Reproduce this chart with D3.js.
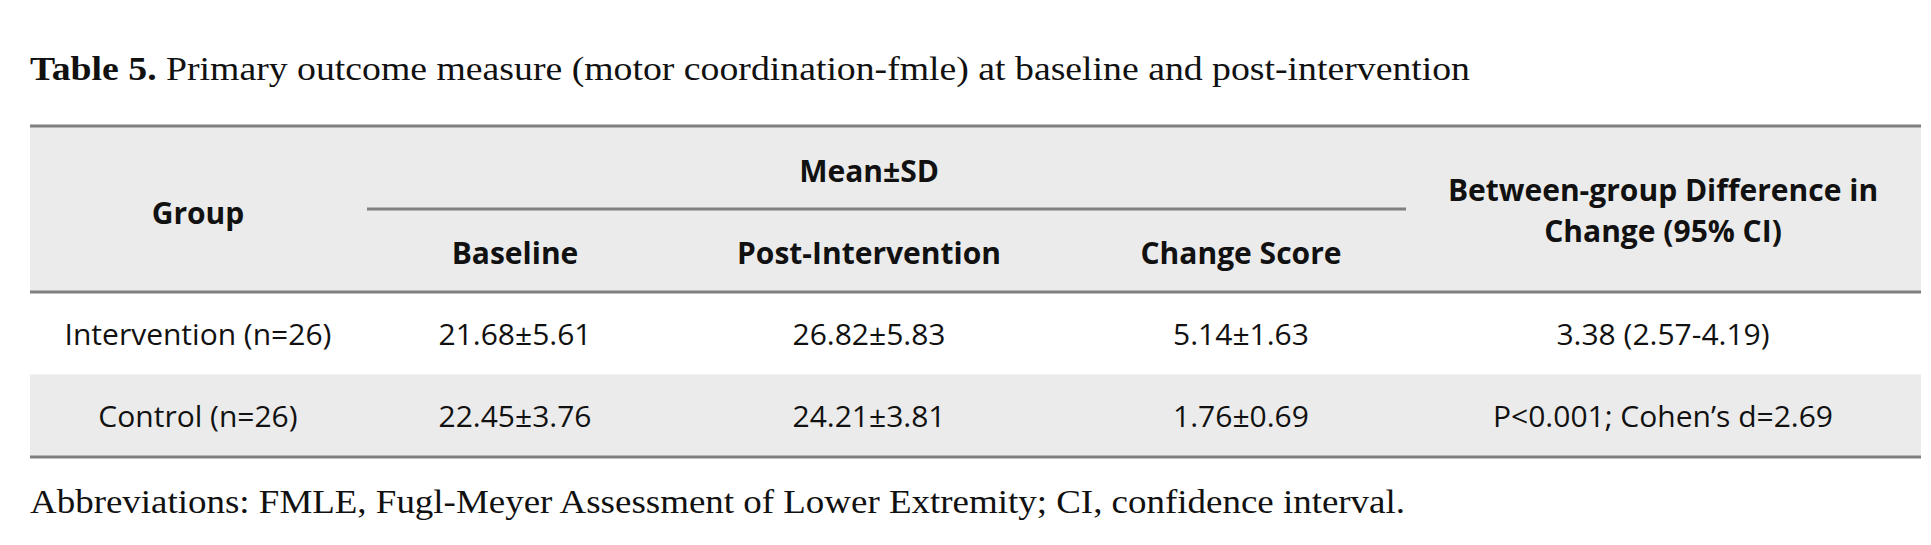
<!DOCTYPE html>
<html lang="en">
<head>
<meta charset="UTF-8">
<title>Table 5</title>
<script src="https://cdn.jsdelivr.net/npm/d3@7"></script>
<style>
  body { margin: 0; background: #fff; }
  .serif { font-family: "Liberation Serif", serif; }
  .sans { font-family: "Open Sans", sans-serif; }
</style>
</head>
<body>
<svg id="chart" width="1931" height="545"></svg>
<script>
const title = ["Table 5.", " Primary outcome measure (motor coordination-fmle) at baseline and post-intervention"];
const footnote = "Abbreviations: FMLE, Fugl-Meyer Assessment of Lower Extremity; CI, confidence interval.";
const columns = ["Group", "Baseline", "Post-Intervention", "Change Score", "Between-group Difference in Change (95% CI)"];
const groups = ["Intervention (n=26)", "Control (n=26)"];
const baseline = ["21.68±5.61", "22.45±3.76"];
const post = ["26.82±5.83", "24.21±3.81"];
const change = ["5.14±1.63", "1.76±0.69"];
const between = ["3.38 (2.57-4.19)", "P<0.001; Cohen’s d=2.69"];

const svg = d3.select("#chart");
const line = "#808080";
const band = "#ebebeb";

// column centres / edges
const x = d3.scaleOrdinal().domain(columns).range([198, 515, 869, 1241, 1663]);
const left = 30, right = 1921;

// title
const t = svg.append("text").attr("class", "serif").attr("x", left).attr("y", 80)
  .attr("font-size", 33).attr("fill", "#111")
  .attr("textLength", 1440).attr("lengthAdjust", "spacingAndGlyphs");
t.append("tspan").attr("font-weight", "bold").text(title[0]);
t.append("tspan").text(title[1]);

// header band
svg.append("rect").attr("x", left).attr("y", 126).attr("width", right - left).attr("height", 166).attr("fill", band);
// row band for second row
const rowY = d3.scaleBand().domain(groups).range([292, 457]);
svg.selectAll("rect.row").data(groups).join("rect")
  .attr("x", left).attr("y", d => rowY(d)).attr("width", right - left).attr("height", rowY.bandwidth())
  .attr("fill", (d, i) => i % 2 ? band : "none");

// rules
[[126, left, right], [292, left, right], [457, left, right]].forEach(([y, a, b]) =>
  svg.append("line").attr("x1", a).attr("x2", b).attr("y1", y).attr("y2", y)
    .attr("stroke", line).attr("stroke-width", 3));
svg.append("line").attr("x1", 367).attr("x2", 1406).attr("y1", 209).attr("y2", 209)
  .attr("stroke", line).attr("stroke-width", 3);

const hdr = (txt, cx, cy) => svg.append("text").attr("class", "sans").attr("x", cx).attr("y", cy)
  .attr("text-anchor", "middle").attr("dominant-baseline", "central")
  .attr("font-size", 30).attr("font-weight", "bold").attr("fill", "#111").text(txt);

hdr("Mean±SD", 869, 170);
hdr(columns[0], x(columns[0]), 212);
columns.slice(1, 4).forEach(c => hdr(c, x(c), 252));
hdr("Between-group Difference in", x(columns[4]), 189);
hdr("Change (95% CI)", x(columns[4]), 230);

// body cells
const rows = groups.map((g, i) => [g, baseline[i], post[i], change[i], between[i]]);
rows.forEach((r, i) => {
  svg.selectAll(null).data(r).join("text").attr("class", "sans")
    .attr("x", (d, j) => x(columns[j]))
    .attr("y", rowY(groups[i]) + rowY.bandwidth() / 2)
    .attr("text-anchor", "middle").attr("dominant-baseline", "central")
    .attr("font-size", 30).attr("fill", "#111").text(d => d);
});

// footnote
svg.append("text").attr("class", "serif").attr("x", left).attr("y", 513)
  .attr("font-size", 33).attr("fill", "#111")
  .attr("textLength", 1375).attr("lengthAdjust", "spacingAndGlyphs").text(footnote);
</script>
</body>
</html>
